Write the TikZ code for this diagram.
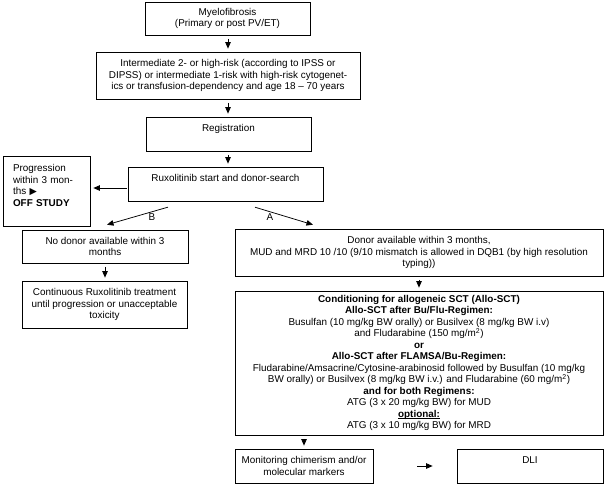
\documentclass[tikz,border=0pt]{standalone}
\usepackage{fontspec}
\setmainfont{Liberation Sans}
\newfontfamily\symfont{DejaVu Sans}
\usetikzlibrary{arrows.meta}
\newcommand\myul[1]{\setbox0\hbox{#1}\rlap{\rule[-1.4pt]{\wd0}{0.6pt}}\box0}
\begin{document}
\begin{tikzpicture}[x=1pt,y=-1pt,
  box/.style={draw, line width=0.75pt, inner sep=0pt, align=center, font=\fontsize{9.9}{11.5}\selectfont},
  arr/.style={line width=0.75pt, -{Triangle[length=6.5pt,width=5.5pt]}, shorten <=3.5pt, shorten >=3pt},
  lbl/.style={font=\fontsize{9.9}{11.5}\selectfont, inner sep=0pt}]
\useasboundingbox (0,0) rectangle (607,488);
\node[box, minimum width=165pt, minimum height=33pt] (b1) at (227.5,18.5) {Myelofibrosis\\(Primary or post PV/ET)};
\node[box, minimum width=264pt, minimum height=47pt] (b2) at (228,75.5) {Intermediate 2- or high-risk (according to IPSS or\\DIPSS) or intermediate 1-risk with high-risk cytogenet-\\ics or transfusion-dependency and age 18 – 70 years};
\node[box, minimum width=165pt, minimum height=34pt] (b3) at (228.5,134) {Registration\\~};
\node[box, minimum width=195pt, minimum height=34pt] (b4) at (225.5,184) {Ruxolitinib start and donor-search\\~};
\node[box, align=left, text width=67pt, inner xsep=10pt, minimum height=70pt] (prog) at (46.5,191) {Progression\\within 3 mon-\\ths {\symfont\fontsize{9.5}{8}\selectfont ▶}\\\textbf{OFF STUDY}\\~};
\node[box, minimum width=166pt, minimum height=33pt] (b5) at (105,246.5) {No donor available within 3\\months};
\node[box, minimum width=165pt, minimum height=47pt] (b6) at (104.5,304.5) {Continuous Ruxolitinib treatment\\until progression or unacceptable\\toxicity};
\node[box, minimum width=368pt, minimum height=47pt] (b7) at (419,252.5) {Donor available within 3 months,\\MUD and MRD 10 /10 (9/10 mismatch is allowed in DQB1 (by high resolution\\typing))};
\node[box, minimum width=368pt, minimum height=144pt] (b8) at (419,363) {\textbf{Conditioning for allogeneic SCT (Allo-SCT)}\\
\textbf{Allo-SCT after Bu/Flu-Regimen:}\\
Busulfan (10 mg/kg BW orally) or Busilvex (8 mg/kg BW i.v)\\
and Fludarabine (150 mg/m\textsuperscript{2})\\
\textbf{or}\\
\textbf{Allo-SCT after FLAMSA/Bu-Regimen:}\\
Fludarabine/Amsacrine/Cytosine-arabinosid followed by Busulfan (10 mg/kg\\
BW orally) or Busilvex (8 mg/kg BW i.v.) and Fludarabine (60 mg/m\textsuperscript{2})\\
\textbf{and for both Regimens:}\\
ATG (3 x 20 mg/kg BW) for MUD\\
\myul{\textbf{optional:}}\\
ATG (3 x 10 mg/kg BW) for MRD};
\node[box, minimum width=138pt, minimum height=34pt] (b9) at (304,466) {Monitoring chimerism and/or\\molecular markers};
\node[box, minimum width=146pt, minimum height=34pt] (b10) at (530,466) {DLI\\~};
% connectors
\draw[arr] (b2.north |- b1.south) -- (b2.north);
\draw[arr] (b2.south) -- (b2.south |- b3.north);
\draw[arr] (b2.south |- b3.south) -- (b2.south |- b4.north);
\draw[arr, shorten <=1pt, shorten >=3pt] ([yshift=-4pt]b4.west) -- ([yshift=-4pt]b4.west -| prog.east);
\draw[arr, shorten <=20.9pt, shorten >=17.7pt] ([xshift=-37.5pt]b4.south) -- ([xshift=-15pt]b5.north);
\node[lbl] (lblB) at (152,217) {B};
\draw[arr, shorten <=20.2pt, shorten >=13.5pt] ([xshift=10.2pt]b4.south) -- ([xshift=-93.1pt]b7.north);
\node[lbl] (lblA) at (270,217) {A};
\draw[arr] (b5.south) -- (b5.south |- b6.north);
\draw[arr] (b7.south) -- (b7.south |- b8.north);
\draw[arr] (b9.north |- b8.south) -- (b9.north);
\draw[arr, shorten <=44pt, shorten >=24pt] (b9.east) -- (b10.west);
\end{tikzpicture}
\end{document}
